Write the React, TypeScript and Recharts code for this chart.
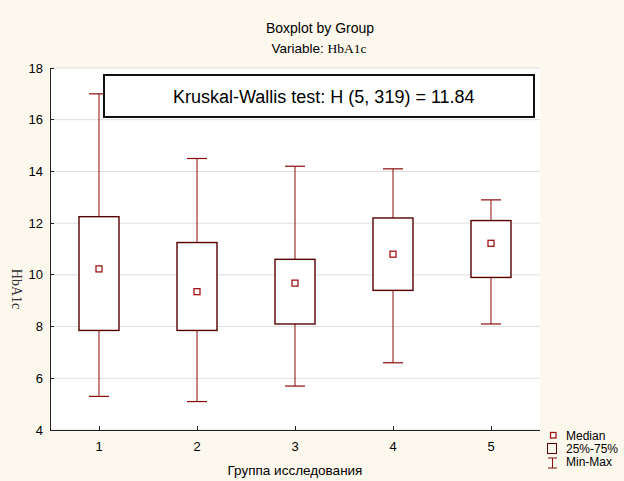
import { ComposedChart, Bar, Line, XAxis, YAxis, CartesianGrid } from "recharts";

const groups = ["1", "2", "3", "4", "5"];
const minVals = [5.3, 5.1, 5.7, 6.6, 8.1];
const q1Vals = [7.85, 7.85, 8.1, 9.4, 9.9];
const medianVals = [10.23, 9.35, 9.68, 10.8, 11.22];
const q3Vals = [12.25, 11.25, 10.6, 12.2, 12.1];
const maxVals = [17.0, 14.5, 14.2, 14.1, 12.9];
const yTicks = [4, 6, 8, 10, 12, 14, 16, 18];

const data = groups.map((g, i) => ({
  group: g,
  whisker: [minVals[i], maxVals[i]],
  box: [q1Vals[i], q3Vals[i]],
  median: medianVals[i],
}));

const SANS = '"Liberation Sans", Arial, sans-serif';
const SERIF = '"Liberation Serif", "Times New Roman", serif';
const WHISKER = "#8b0a0a";
const BOX = "#560000";
const MED = "#a01414";
const FRAME = { stroke: "#222", strokeWidth: 1, shapeRendering: "crispEdges" };

function WhiskerShape(props: any) {
  const { x, y, width, height } = props;
  const cx = x + width / 2;
  return (
    <g>
      <line x1={cx} x2={cx} y1={y} y2={y + height} stroke={WHISKER} strokeWidth={1} />
      <line x1={x} x2={x + width} y1={y} y2={y} stroke={WHISKER} strokeWidth={1.2} />
      <line x1={x} x2={x + width} y1={y + height} y2={y + height} stroke={WHISKER} strokeWidth={1.2} />
    </g>
  );
}

function BoxShape(props: any) {
  const { x, y, width, height } = props;
  return <rect x={x} y={y} width={width} height={height} fill="#fff" stroke={BOX} strokeWidth={1.4} />;
}

function MedianDot(props: any) {
  const { cx, cy, index } = props;
  return (
    <rect key={index} x={cx - 3} y={cy - 3} width={6} height={6} fill="#fff" stroke={MED} strokeWidth={1.3} />
  );
}

export default function App() {
  return (
    <div style={{ position: "relative", width: 624, height: 481, background: "#fdf8ee", fontFamily: SANS }}>
      <style>{"body{margin:0}"}</style>
      <ComposedChart width={624} height={481} data={data} margin={{ top: 68, right: 84, left: 0, bottom: 1 }}>
        <CartesianGrid horizontal vertical={false} fill="#fff" stroke="#dedede" yAxisId="main" xAxisId="main" />
        <XAxis
          xAxisId="main"
          dataKey="group"
          height={50}
          tickSize={-4}
          tickMargin={16}
          axisLine={FRAME}
          tickLine={FRAME}
          tick={{ fill: "#000", fontSize: 13, fontFamily: SANS }}
          label={{ value: "Группа исследования", position: "insideBottom", offset: 5, fill: "#000", fontSize: 13.5, fontFamily: SANS }}
        />
        <XAxis xAxisId="w" dataKey="group" hide />
        <XAxis
          xAxisId="t"
          dataKey="group"
          orientation="top"
          height={0}
          tickSize={-4}
          tickFormatter={() => ""}
          axisLine={FRAME}
          tickLine={FRAME}
        />
        <YAxis
          yAxisId="main"
          domain={[4, 18]}
          ticks={yTicks}
          interval={0}
          width={50}
          tickSize={-4}
          tickMargin={11}
          axisLine={FRAME}
          tickLine={FRAME}
          tick={{ fill: "#000", fontSize: 13, fontFamily: SANS }}
        />
        <YAxis
          yAxisId="r"
          orientation="right"
          domain={[4, 18]}
          ticks={yTicks}
          interval={0}
          width={0}
          tickSize={-4}
          tickFormatter={() => ""}
          axisLine={FRAME}
          tickLine={FRAME}
        />
        <Bar dataKey="whisker" xAxisId="w" yAxisId="main" barSize={20} shape={WhiskerShape} isAnimationActive={false} />
        <Bar dataKey="box" xAxisId="main" yAxisId="main" barSize={40} shape={BoxShape} isAnimationActive={false} />
        <Line
          dataKey="median"
          xAxisId="main"
          yAxisId="main"
          stroke="none"
          dot={MedianDot}
          activeDot={false}
          isAnimationActive={false}
        />
      </ComposedChart>
      <svg
        width={624}
        height={481}
        style={{ position: "absolute", left: 0, top: 0, pointerEvents: "none" }}
      >
        <text x={320} y={33} textAnchor="middle" fontSize={14} fontFamily={SANS} fill="#000">
          Boxplot by Group
        </text>
        <text x={319} y={53} textAnchor="middle" fontSize={13.5} fontFamily={SANS} fill="#000">
          Variable: <tspan fontFamily={SERIF}>HbA1c</tspan>
        </text>
        <text transform="translate(12,289) rotate(90)" textAnchor="middle" fontSize={14} fontFamily={SERIF} fill="#333">
          HbA1c
        </text>
        <rect x={104} y={75} width={430} height={42} fill="#fff" stroke="#111" strokeWidth={2} />
        <text x={173} y={103} fontSize={18} fontFamily={SANS} fill="#000">
          Kruskal-Wallis test: H (5, 319) = 11.84
        </text>
        <rect x={550.5} y={432.5} width={5.5} height={5.5} fill="#fff" stroke={MED} strokeWidth={1.3} />
        <text x={566} y={440} fontSize={12} fontFamily={SANS} fill="#000">Median</text>
        <rect x={547.5} y={443.5} width={9} height={10} fill="none" stroke={BOX} strokeWidth={1} />
        <text x={566} y={453} fontSize={12} fontFamily={SANS} fill="#000">25%-75%</text>
        <line x1={552.5} x2={552.5} y1={458} y2={468} stroke={WHISKER} strokeWidth={1} />
        <line x1={548} x2={557} y1={458} y2={458} stroke={WHISKER} strokeWidth={1} />
        <line x1={548} x2={557} y1={468} y2={468} stroke={WHISKER} strokeWidth={1} />
        <text x={566} y={466} fontSize={12} fontFamily={SANS} fill="#000">Min-Max</text>
      </svg>
    </div>
  );
}
